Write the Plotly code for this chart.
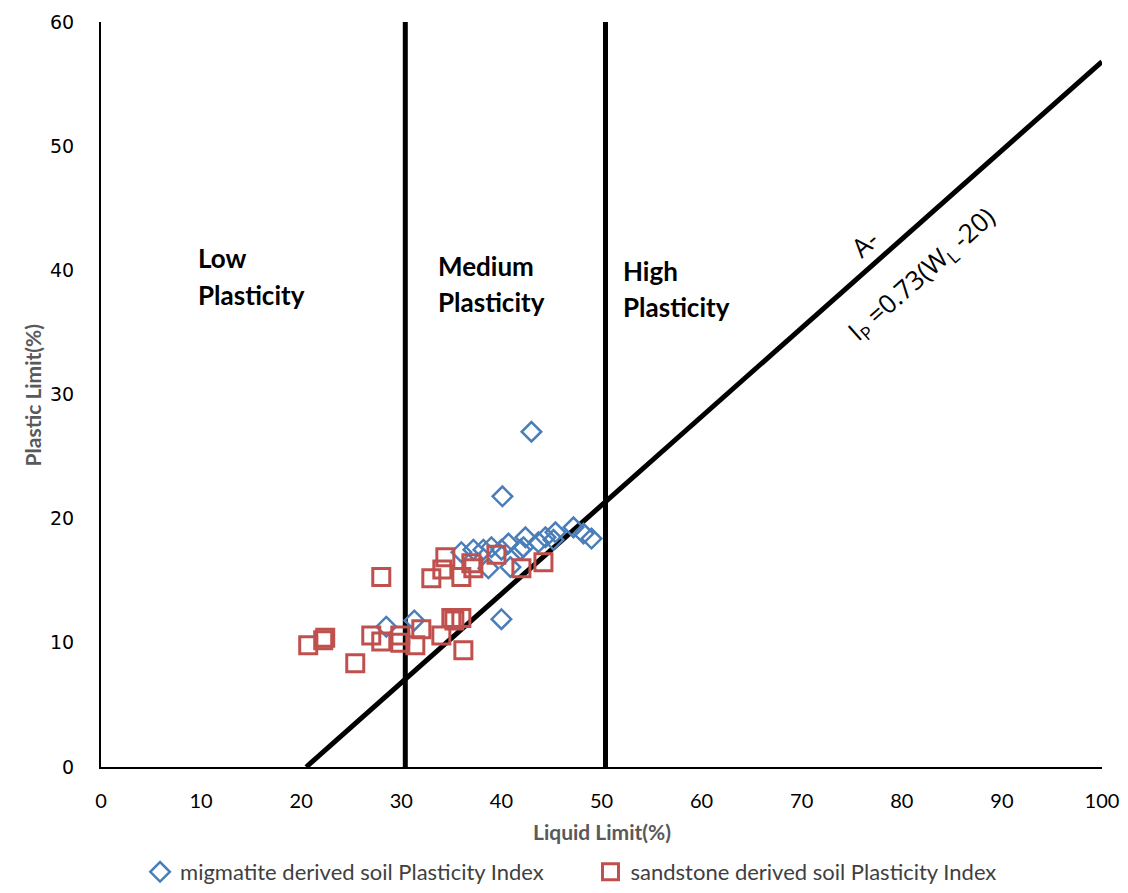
import plotly.graph_objects as go

# Data
mig_ll = [43.0, 40.1, 40.0, 28.5, 31.3, 36.0, 37.2, 38.2, 39.0, 38.7, 40.0, 40.7,
          40.9, 41.9, 42.4, 42.2, 43.7, 44.4, 45.4, 45.2, 47.2, 48.2, 49.0]
mig_pl = [27.0, 21.8, 11.9, 11.3, 11.8, 17.3, 17.5, 17.5, 17.7, 16.0, 17.5, 18.0,
          16.1, 17.5, 18.5, 17.7, 18.1, 18.5, 18.9, 18.3, 19.3, 18.8, 18.4]

sand_ll = [28.0, 20.7, 22.2, 22.4, 25.4, 27.0, 28.0, 29.9, 29.9, 31.4, 32.0, 34.0,
           35.0, 35.3, 36.0, 36.2, 33.0, 34.1, 34.4, 36.0, 37.0, 37.2, 39.5, 42.0, 44.2]
sand_pl = [15.3, 9.8, 10.2, 10.4, 8.35, 10.6, 10.1, 10.6, 10.0, 9.8, 11.1, 10.6,
           12.0, 11.8, 12.0, 9.4, 15.2, 15.9, 16.9, 15.3, 16.4, 16.0, 17.1, 16.0, 16.5]

aline_x = [20.5, 100]
aline_y = [0, 56.8]
low_med_x = [30.4, 30.4]
low_med_y = [-0.2, 60.2]
med_high_x = [50.4, 50.4]
med_high_y = [-0.2, 60.8]

x_ticks = [0, 10, 20, 30, 40, 50, 60, 70, 80, 90, 100]
y_ticks = [0, 10, 20, 30, 40, 50, 60]

fig = go.Figure()

for lx, ly in [(low_med_x, low_med_y), (med_high_x, med_high_y), (aline_x, aline_y)]:
    fig.add_trace(go.Scatter(x=lx, y=ly, mode="lines", showlegend=False,
                             line=dict(color="black", width=5), cliponaxis=False,
                             hoverinfo="skip"))

fig.add_trace(go.Scatter(x=mig_ll, y=mig_pl, mode="markers",
                         name="migmatite derived soil Plasticity Index", legend="legend",
                         marker=dict(symbol="diamond-open", size=15, color="#4A7EBB",
                                     line=dict(width=2.5, color="#4A7EBB"))))
fig.add_trace(go.Scatter(x=sand_ll, y=sand_pl, mode="markers",
                         name="sandstone derived soil Plasticity Index", legend="legend2",
                         marker=dict(symbol="square-open", size=17, color="#C0504D",
                                     line=dict(width=3, color="#C0504D"))))

tickfont_x = dict(family="Lato", size=20, color="black")
tickfont_y = dict(family="DejaVu Sans", size=19, color="black")
legfont = dict(family="Lato", size=22, color="#404040")

fig.update_layout(
    width=1112, height=877,
    margin=dict(l=93, r=18, t=14, b=118, autoexpand=False),
    paper_bgcolor="white", plot_bgcolor="white",
    xaxis=dict(range=[0, 100], tickvals=x_ticks, showgrid=False, zeroline=False,
               showline=True, linecolor="black", linewidth=2,
               ticks="outside", ticklen=15, tickcolor="rgba(0,0,0,0)",
               tickfont=tickfont_x),
    yaxis=dict(range=[0, 60], tickvals=y_ticks, showgrid=False, zeroline=False,
               showline=True, linecolor="black", linewidth=2,
               ticks="outside", ticklen=21, tickcolor="rgba(0,0,0,0)",
               tickfont=tickfont_y),
    legend=dict(orientation="h", x=0.039, y=-0.141, xanchor="left", yanchor="middle",
                font=legfont, itemwidth=30, bgcolor="rgba(0,0,0,0)"),
    legend2=dict(orientation="h", x=0.489, y=-0.141, xanchor="left", yanchor="middle",
                 font=legfont, itemwidth=30, bgcolor="rgba(0,0,0,0)"),
    showlegend=True,
)

title_font = dict(family="Lato", size=21, color="#595959")
ann = [
    dict(text="<b>Liquid Limit(%)</b>", x=0.5, y=-0.086, xref="paper", yref="paper",
         showarrow=False, font=title_font, xanchor="center", yanchor="middle"),
    dict(text="<b>Plastic Limit(%)</b>", x=-0.068, y=0.5, xref="paper", yref="paper",
         showarrow=False, font=title_font, textangle=-90, xanchor="center", yanchor="middle"),
]
label_font = dict(family="Lato", size=26, color="black")
for txt, lx, ly in [("Low", 9.5, 41.0), ("Plasticity", 9.5, 38.0),
                    ("Medium", 33.5, 40.35), ("Plasticity", 33.5, 37.45),
                    ("High", 51.95, 39.95), ("Plasticity", 51.95, 37.05)]:
    ann.append(dict(text="<b>%s</b>" % txt, x=lx, y=ly, xref="x", yref="y",
                    showarrow=False, font=label_font, xanchor="left", yanchor="middle"))

eq_font = dict(family="Open Sans", size=26, color="black")
ann.append(dict(text="A-", x=76.3, y=42.2, xref="x", yref="y", showarrow=False,
                font=eq_font, textangle=-41.5, xanchor="center", yanchor="middle"))
ann.append(dict(text="I<sub>P</sub> =0.73(W<sub>L</sub> -20)", x=82.0, y=39.7, xref="x", yref="y",
                showarrow=False, font=eq_font, textangle=-41.5,
                xanchor="center", yanchor="middle"))
fig.update_layout(annotations=ann)

fig.add_shape(type="rect", xref="paper", yref="paper",
              x0=-0.0939, x1=1.025, y0=-0.165, y1=1.0242,
              line=dict(color="#D9D9D9", width=1), fillcolor="rgba(0,0,0,0)")

fig.write_html("out.html")
